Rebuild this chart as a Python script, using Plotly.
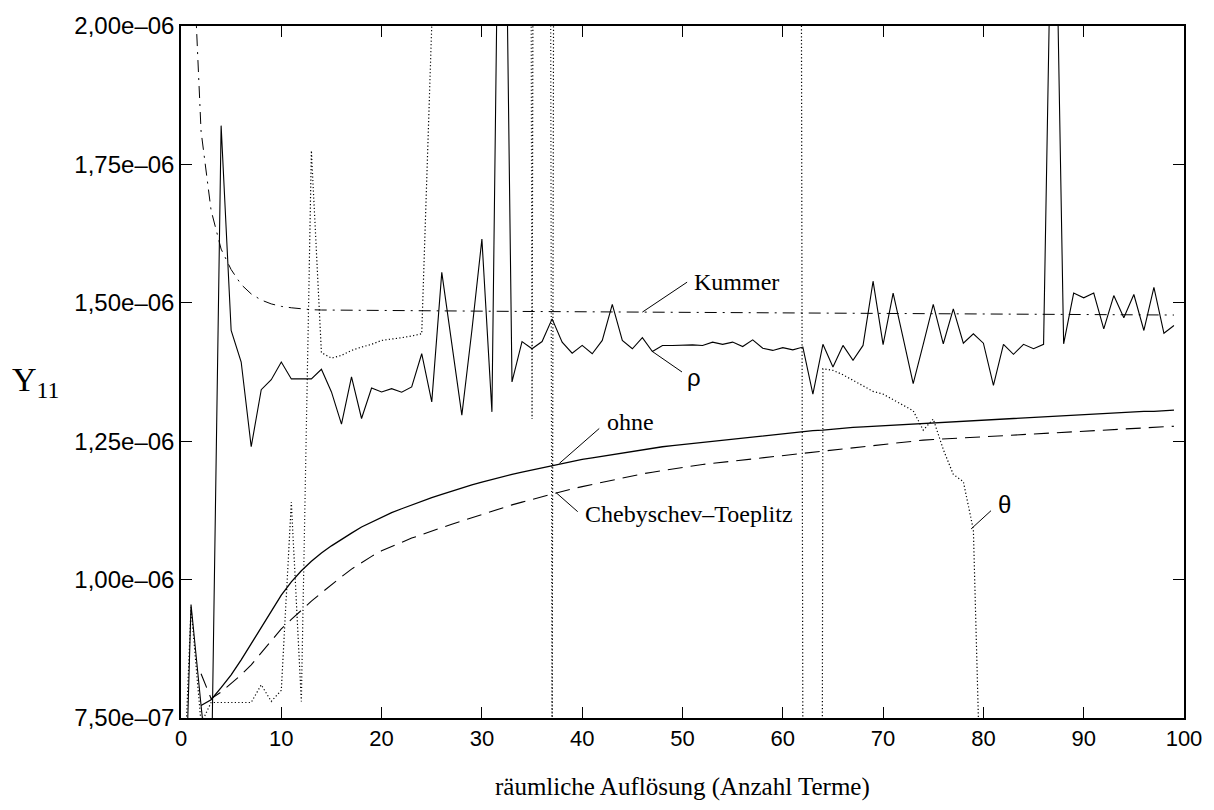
import numpy as np
import plotly.graph_objects as go

S = 1e-6  # all series values below are in units of 1e-6

x_rho = list(range(0, 100))
rho = [0.32, 0.955, 0.7725, 0.60, 1.82, 1.45, 1.393, 1.24, 1.343, 1.361,
       1.393, 1.3625, 1.3625, 1.3625, 1.38, 1.339, 1.281, 1.366, 1.291, 1.346,
       1.339, 1.345, 1.3385, 1.348, 1.408, 1.321, 1.555, 1.43, 1.297, 1.45,
       1.615, 1.303, 2.80, 1.357, 1.43, 1.417, 1.43, 1.471, 1.429, 1.409,
       1.423, 1.408, 1.432, 1.497, 1.432, 1.417, 1.437, 1.412, 1.423, 1.423,
       1.424, 1.424, 1.423, 1.429, 1.425, 1.429, 1.421, 1.433, 1.418, 1.414,
       1.419, 1.415, 1.42, 1.335, 1.425, 1.384, 1.423, 1.396, 1.423, 1.539,
       1.4245, 1.5175, 1.436, 1.354, 1.425, 1.497, 1.426, 1.489, 1.427, 1.444,
       1.427, 1.351, 1.425, 1.407, 1.425, 1.417, 1.425, 2.47, 1.426, 1.5175,
       1.509, 1.5175, 1.453, 1.513, 1.473, 1.515, 1.450, 1.528, 1.445, 1.459]

x_theta = list(range(0, 81))
theta = [0.50, 0.95, 0.74, 0.778, 0.778, 0.778, 0.778, 0.778, 0.81, 0.78,
         0.80, 1.14, 0.78, 1.775, 1.41, 1.40, 1.405, 1.414, 1.42, 1.425,
         1.432, 1.434, 1.437, 1.44, 1.444, 2.0, 10, 10, 10, 10,
         10, 10, 10, 10, 10, 1.29, 10, 0.70, 10, 10,
         10, 10, 10, 10, 10, 10, 10, 10, 10, 10,
         10, 10, 10, 10, 10, 10, 10, 10, 10, 10,
         10, 10, 0.70, -10, 1.381, 1.378, 1.37, 1.36, 1.35, 1.34,
         1.335, 1.325, 1.315, 1.305, 1.27, 1.29, 1.235, 1.19, 1.177, 1.09,
         0.41]

x_ohne = list(range(2, 100))
ohne = [0.7725, 0.783, 0.805, 0.828, 0.855, 0.884, 0.913, 0.942,
        0.972, 0.996, 1.016, 1.033, 1.048, 1.061, 1.073, 1.084, 1.095, 1.104,
        1.113, 1.121, 1.128, 1.135, 1.142, 1.148, 1.154, 1.160, 1.166, 1.171,
        1.176, 1.181, 1.185, 1.190, 1.194, 1.198, 1.202, 1.206, 1.210, 1.213,
        1.217, 1.220, 1.223, 1.226, 1.229, 1.232, 1.235, 1.237, 1.240, 1.242,
        1.244, 1.246, 1.248, 1.250, 1.252, 1.254, 1.256, 1.258, 1.260, 1.262,
        1.264, 1.266, 1.267, 1.269, 1.270, 1.272, 1.273, 1.275, 1.276, 1.277,
        1.279, 1.280, 1.281, 1.282, 1.283, 1.284, 1.285, 1.286, 1.287, 1.288,
        1.289, 1.290, 1.291, 1.292, 1.293, 1.294, 1.295, 1.296, 1.297, 1.298,
        1.299, 1.300, 1.300, 1.301, 1.302, 1.303, 1.304, 1.304, 1.305, 1.306]

x_cheb = list(range(2, 100))
cheb = [0.83, 0.785, 0.797, 0.812, 0.828, 0.846, 0.867, 0.889,
        0.911, 0.928, 0.945, 0.961, 0.976, 0.991, 1.005, 1.019, 1.031, 1.042,
        1.052, 1.060, 1.068, 1.075, 1.081, 1.088, 1.094, 1.100, 1.106, 1.112,
        1.118, 1.124, 1.130, 1.135, 1.140, 1.145, 1.150, 1.155, 1.159, 1.164,
        1.168, 1.172, 1.176, 1.180, 1.184, 1.188, 1.191, 1.194, 1.197, 1.200,
        1.203, 1.205, 1.208, 1.210, 1.212, 1.215, 1.217, 1.219, 1.221, 1.223,
        1.225, 1.227, 1.229, 1.231, 1.233, 1.235, 1.237, 1.239, 1.241, 1.243,
        1.245, 1.247, 1.249, 1.251, 1.252, 1.253, 1.254, 1.255, 1.256, 1.257,
        1.258, 1.259, 1.260, 1.261, 1.262, 1.263, 1.264, 1.265, 1.266, 1.267,
        1.268, 1.269, 1.270, 1.271, 1.272, 1.273, 1.274, 1.275, 1.276, 1.277]

x_kummer = list(range(1, 100))
kummer = [2.22, 1.81, 1.667, 1.597, 1.560, 1.533, 1.516, 1.505, 1.498,
          1.4935, 1.491, 1.489, 1.4875, 1.487, 1.4868, 1.4866, 1.4864, 1.4862, 1.4860,
          1.4858, 1.4857, 1.4856, 1.4855, 1.4854, 1.4853, 1.4852, 1.4851, 1.4850, 1.4849,
          1.4848, 1.4847, 1.4846, 1.4845, 1.4844, 1.4843, 1.4842, 1.4841, 1.4840, 1.4839,
          1.4838, 1.4837, 1.4836, 1.4835, 1.4834, 1.4833, 1.4832, 1.4831, 1.4830, 1.4829,
          1.4828, 1.4827, 1.4826, 1.4825, 1.4824, 1.4823, 1.4822, 1.4821, 1.4820, 1.4819,
          1.4818, 1.4817, 1.4816, 1.4815, 1.4814, 1.4813, 1.4812, 1.4811, 1.4810, 1.4809,
          1.4808, 1.4807, 1.4806, 1.4805, 1.4804, 1.4803, 1.4802, 1.4801, 1.4800, 1.4799,
          1.4798, 1.4797, 1.4796, 1.4795, 1.4794, 1.4793, 1.4792, 1.4791, 1.4790, 1.4789,
          1.4788, 1.4787, 1.4786, 1.4785, 1.4784, 1.4783, 1.4782, 1.4781, 1.4780, 1.4779]

x_ticks = [0, 10, 20, 30, 40, 50, 60, 70, 80, 90, 100]
y_ticks = [0.75, 1.00, 1.25, 1.50, 1.75, 2.00]
y_ticktext = ["7,50e\u201307", "1,00e\u201306", "1,25e\u201306", "1,50e\u201306", "1,75e\u201306", "2,00e\u201306"]

def sc(v):
    return (np.array(v, dtype=float) * S).tolist()

fig = go.Figure()
fig.add_trace(go.Scatter(x=x_theta, y=sc(theta), mode="lines", name="θ",
                         line=dict(color="black", width=1.2, dash="1.2px,2.3px")))
fig.add_trace(go.Scatter(x=x_kummer, y=sc(kummer), mode="lines", name="Kummer",
                         line=dict(color="black", width=1, dash="12px,6px,2px,6px")))
fig.add_trace(go.Scatter(x=x_cheb, y=sc(cheb), mode="lines", name="Chebyschev–Toeplitz",
                         line=dict(color="black", width=1.1, dash="15px,8px")))
fig.add_trace(go.Scatter(x=x_ohne, y=sc(ohne), mode="lines", name="ohne",
                         line=dict(color="black", width=1.3)))
fig.add_trace(go.Scatter(x=x_rho, y=sc(rho), mode="lines", name="ρ",
                         line=dict(color="black", width=1.1)))

serif = "Liberation Serif, Times New Roman, serif"
sans = "Liberation Sans, Arial, sans-serif"

def leader(x0, y0, x1, y1):
    fig.add_shape(type="line", xref="x", yref="y", x0=x0, y0=y0 * S, x1=x1, y1=y1 * S,
                  line=dict(color="black", width=1))

def label(x, y, text, size=24, family=serif):
    fig.add_annotation(x=x, y=y * S, xref="x", yref="y", text=text, showarrow=False,
                       xanchor="left", yanchor="middle",
                       font=dict(family=family, size=size, color="black"))

leader(46, kummer[45], 50.46, 1.5373)
label(50.9, 1.5368, "Kummer")
leader(47, rho[47], 49.95, 1.375)
label(50.2, 1.3655, "ρ", size=24, family=sans)
leader(37.73, 1.210, 41.7, 1.273)
label(42.3, 1.2844, "ohne")
leader(37.4, 1.157, 39.55, 1.1227)
label(40.1, 1.1186, "Chebyschev\u2013Toeplitz")
leader(78.78, 1.0916, 80.76, 1.1245)
label(81.3, 1.1348, "θ", size=24, family=sans)

fig.add_annotation(xref="paper", yref="paper", x=-0.170, y=0.485, xanchor="left",
                   text="Y<sub>11</sub>",
                   showarrow=False, font=dict(family=serif, size=34, color="black"))
fig.add_annotation(xref="paper", yref="paper", x=0.5, y=-0.099, yanchor="middle",
                   text="räumliche Auflösung (Anzahl Terme)",
                   showarrow=False, font=dict(family=serif, size=25, color="black"))

fig.update_layout(
    width=1214, height=810,
    margin=dict(l=181, r=25, t=25, b=92),
    paper_bgcolor="white", plot_bgcolor="white",
    showlegend=False,
    font=dict(family=sans, size=22, color="black"),
)
fig.update_xaxes(range=[0, 100], tickvals=x_ticks, ticks="inside", ticklen=11,
                 tickwidth=1.2, tickcolor="black", showline=True, linecolor="black",
                 linewidth=1.5, mirror="ticks", showgrid=False, zeroline=False,
                 tickfont=dict(family=sans, size=22))
fig.update_yaxes(range=[0.75 * S, 2.0 * S], tickvals=sc(y_ticks), ticktext=y_ticktext,
                 ticks="inside", ticklen=11, tickwidth=1.2, tickcolor="black",
                 showline=True, linecolor="black", linewidth=1.5, mirror="ticks",
                 showgrid=False, zeroline=False, tickfont=dict(family=sans, size=24))

fig.write_html("out.html")
